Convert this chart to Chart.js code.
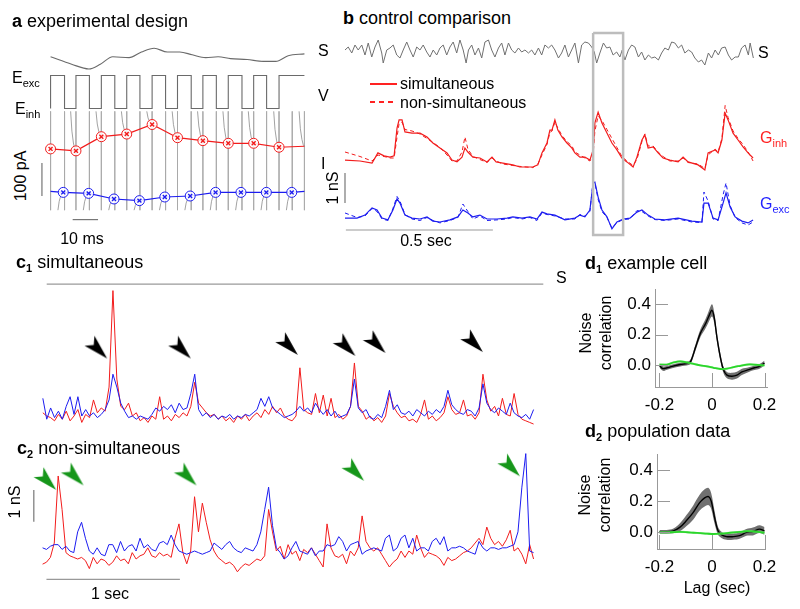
<!DOCTYPE html>
<html>
<head>
<meta charset="utf-8">
<title>simultaneous vs non-simultaneous conductances</title>
<script src="https://cdn.jsdelivr.net/npm/chart.js@4.4.1/dist/chart.umd.min.js"></script>
<style>
  body { margin: 0; background: #fff; }
  #fig { position: relative; width: 800px; height: 609px; overflow: hidden; font-family: "Liberation Sans", Arial, sans-serif; color: #000; }
  #fig canvas { position: absolute; }
  .lbl { position: absolute; white-space: nowrap; line-height: 1; font-size: 16px; }
  .ttl { font-size: 18px; }
  .sub { font-size: 11px; position: relative; top: 4px; }
  .rot { transform: translate(-50%, -50%) rotate(-90deg); }
  .ctr { transform: translateX(-50%); }
  .key { position: absolute; width: 27px; height: 1.5px; background: #f22; }
  .key.dash { background: repeating-linear-gradient(to right, #f22 0 5px, rgba(255,255,255,0) 5px 9px); }
</style>
</head>
<body>
<div id="fig">
  <canvas id="chartA" width="285" height="205" style="left:35px;top:30px"></canvas>
  <canvas id="chartB" width="430" height="215" style="left:335px;top:30px"></canvas>
  <canvas id="chartC1" width="530" height="172" style="left:30px;top:268px"></canvas>
  <canvas id="chartC2" width="540" height="160" style="left:20px;top:440px"></canvas>
  <canvas id="chartD1" width="230" height="145" style="left:560px;top:275px"></canvas>
  <canvas id="chartD2" width="230" height="140" style="left:560px;top:440px"></canvas>

  <!-- panel a -->
  <div class="lbl ttl" style="left:12px;top:12px"><b>a</b> experimental design</div>
  <div class="lbl" style="left:318px;top:43px">S</div>
  <div class="lbl" style="left:318px;top:88px">V</div>
  <div class="lbl" style="left:321px;top:156px">I</div>
  <div class="lbl" style="left:12px;top:70px">E<span class="sub">exc</span></div>
  <div class="lbl" style="left:15px;top:101px">E<span class="sub">inh</span></div>
  <div class="lbl rot" style="left:21px;top:176px">100 pA</div>
  <div class="lbl ctr" style="left:82px;top:231px">10 ms</div>

  <!-- panel b -->
  <div class="lbl ttl" style="left:343px;top:9px"><b>b</b> control comparison</div>
  <div class="lbl" style="left:758px;top:45px">S</div>
  <div class="key" style="left:370px;top:83px"></div>
  <div class="key dash" style="left:370px;top:101px"></div>
  <div class="lbl" style="left:400px;top:76px">simultaneous</div>
  <div class="lbl" style="left:400px;top:95px">non-simultaneous</div>
  <div class="lbl" style="left:760px;top:130px;color:#f22">G<span class="sub">inh</span></div>
  <div class="lbl" style="left:760px;top:196px;color:#22f">G<span class="sub">exc</span></div>
  <div class="lbl rot" style="left:333px;top:188px">1 nS</div>
  <div class="lbl ctr" style="left:426px;top:233px">0.5 sec</div>

  <!-- panel c -->
  <div class="lbl ttl" style="left:16px;top:253px"><b>c<span class="sub">1</span></b> simultaneous</div>
  <div class="lbl" style="left:556px;top:270px">S</div>
  <div class="lbl ttl" style="left:17px;top:439px"><b>c<span class="sub">2</span></b> non-simultaneous</div>
  <div class="lbl rot" style="left:15px;top:502px">1 nS</div>
  <div class="lbl ctr" style="left:110px;top:586px">1 sec</div>

  <!-- panel d -->
  <div class="lbl ttl" style="left:585px;top:254px"><b>d<span class="sub">1</span></b> example cell</div>
  <div class="lbl rot" style="left:586px;top:333px">Noise</div>
  <div class="lbl rot" style="left:606px;top:333px">correlation</div>
  <div class="lbl ttl" style="left:585px;top:422px"><b>d<span class="sub">2</span></b> population data</div>
  <div class="lbl rot" style="left:585px;top:495px">Noise</div>
  <div class="lbl rot" style="left:605px;top:495px">correlation</div>
  <div class="lbl ctr" style="left:717px;top:580px">Lag (sec)</div>
</div>

<script>
Chart.defaults.font.family = '"Liberation Sans", Arial, sans-serif';
Chart.defaults.color = '#000';

// ---------- panel a : one stimulus, alternating clamp (time in ms, current in pA) ----------
const aStimT = [0, 8.3, 15.1, 19.6, 24.5, 30.9, 35.8, 40.8, 46, 50.9, 55.8, 61.1, 66, 70.9, 77.4, 83.8, 88.7, 93.6, 100];
const aStimV = [18, 10, 5, 10, 18, 17, 23, 27, 23, 23, 20, 17, 18, 16, 15, 13, 13, 19, 21];
const aStepT = [0, 5.5, 10, 15.3, 20, 25.3, 30, 35.2, 40, 45.3, 50, 55.4, 60, 65.3, 70, 75.4, 80, 85.1, 90, 95.2, 100];
const aStepV = [-80, 0, -80, 0, -80, 0, -80, 0, -80, 0, -80, 0, -80, 0, -80, 0, -80, 0, -80, 0, 0];
const aInhT = [0, 10, 20, 30, 40, 50, 60, 70, 80, 90, 100];
const aInhV = [86, 80, 123, 131, 160, 120, 111, 103, 103, 91, 94];
const aExcT = [0, 5, 15, 25, 35, 45, 55, 65, 75, 85, 95, 100];
const aExcV = [-43, -46, -49, -66, -71, -60, -57, -46, -46, -46, -46, -43];
const aTransientTop = 200, aTransientBottom = -100;
const decayDt = [-2.1, -1.6, -1.0, -0.5, 0];
const decayFrac = [0, 0.5, 0.8, 0.95, 1];
const aPaBarT = [-3.4, -3.4], aPaBarV = [43, -57];
const aMsBarT = [8.7, 18.7], aMsBarV = [-128.6, -128.6];

// ---------- panel b : control comparison (time in s, conductance in nS) ----------
const bStimT = [0, .011, .023, .034, .045, .057, .068, .079, .091, .102,
  .113, .125, .13, .142, .153, .164, .176, .187, .198, .21,
  .221, .232, .244, .255, .266, .278, .289, .3, .312, .323,
  .334, .346, .357, .368, .38, .391, .402, .412, .42, .431,
  .442, .454, .465, .476, .488, .499, .51, .522, .533, .544,
  .556, .567, .578, .59, .601, .612, .624, .635, .646, .658,
  .669, .68, .692, .703, .714, .726, .737, .748, .76, .771,
  .782, .794, .805, .816, .828, .839, .848, .856, .867, .879,
  .89, .901, .912, .924, .935, .943, .952, .964, .975, .986,
  .998, 1.009, 1.02, 1.032, 1.043, 1.054, 1.066, 1.077, 1.088, 1.1,
  1.111, 1.122, 1.134, 1.145, 1.156, 1.168, 1.179, 1.19, 1.202, 1.213,
  1.224, 1.236, 1.247, 1.259, 1.27, 1.281, 1.293, 1.304, 1.315, 1.327,
  1.338, 1.349, 1.361, 1.372, 1.378, 1.389];
const bStimV = [20, 23, 17, 25, 20, 25, 15, 27, 13, 23,
  30, 17, 7, 20, 22, 25, 15, 12, 20, 28,
  20, 13, 23, 20, 25, 18, 13, 20, 15, 22,
  25, 15, 23, 28, 17, 30, 20, 7, 20, 25,
  15, 22, 12, 28, 30, 20, 13, 22, 27, 15,
  27, 20, 17, 22, 18, 20, 17, 20, 15, 22,
  15, 25, 22, 25, 20, 12, 17, 25, 13, 20,
  27, 7, 25, 28, 27, 23, 18, 7, 17, 27,
  22, 23, 15, 18, 13, 20, 10, 20, 25, 23,
  13, 18, 10, 15, 12, 13, 10, 17, 22, 20,
  28, 27, 22, 25, 17, 20, 18, 12, 8, 10,
  5, 17, 12, 20, 15, 22, 23, 15, 10, 13,
  13, 22, 25, 15, 27, 12];
const gInhT = [0, .051, .092, .112, .133, .153, .167, .177, .184, .194,
  .204, .228, .255, .279, .299, .323, .347, .364, .381, .398,
  .408, .418, .435, .459, .483, .5, .514, .537, .571, .595,
  .639, .656, .67, .687, .697, .704, .714, .724, .738, .755,
  .772, .782, .799, .816, .833, .844, .85, .861, .874, .891,
  .908, .925, .942, .959, .98, .993, 1.01, 1.02, 1.031, 1.048,
  1.065, 1.082, 1.105, 1.133, 1.15, 1.167, 1.201, 1.224, 1.235, 1.259,
  1.269, 1.282, 1.293, 1.303, 1.32, 1.337, 1.354, 1.371, 1.388];
const gInhSim = [.33, .3, .23, .57, .47, .43, .47, 1.4, 1.67, 1.67,
  1.27, 1.23, 1.23, 1.1, .9, .73, .57, .33, .27, .43,
  .73, .6, .43, .4, .27, .43, .27, .23, .17, .1,
  .1, .17, .57, .9, 1.33, 1.33, 1.67, 1.33, 1.1, .9,
  .73, .57, .43, .43, .33, .67, 1.57, 1.93, 1.57, 1.23,
  .9, .67, .4, .27, .1, .43, 1, 1.17, .73, .77,
  .57, .4, .33, .27, .43, .27, .17, 0, .57, .67,
  .57, 1, 1.9, 1.67, 1.23, 1, .77, .57, .4];
const gInhNon = [.6, .45, .3, .5, .45, .4, .4, 1.1, 1.55, 1.6,
  1.35, 1.3, 1.2, 1.05, .92, .75, .5, .3, .3, .6,
  1.1, .7, .45, .35, .25, .4, .3, .2, .15, .12,
  .08, .2, .5, .85, 1.25, 1.3, 1.6, 1.4, 1.15, .95,
  .8, .6, .5, .4, .3, .5, 1.3, 1.8, 1.65, 1.35,
  1.05, .75, .45, .3, .15, .35, .95, 1.2, .8, .8,
  .6, .45, .3, .3, .4, .25, .2, .05, .5, .7,
  .6, 1.05, 2.15, 1.75, 1.3, 1.05, .85, .6, .3];
const gExcT = [0, .041, .068, .092, .109, .126, .146, .163, .177, .187,
  .204, .228, .255, .279, .299, .323, .357, .384, .401, .418,
  .435, .459, .483, .517, .551, .571, .602, .629, .653, .67,
  .687, .714, .748, .782, .799, .816, .833, .844, .85, .861,
  .874, .891, .908, .925, .946, .969, .993, 1.01, 1.031, 1.054,
  1.088, 1.133, 1.18, 1.214, 1.221, 1.235, 1.252, 1.269, 1.286, 1.296,
  1.31, 1.327, 1.35, 1.371, 1.388];
const gExcSim = [.13, .13, .23, .47, .4, .13, .07, .4, .77, .63,
  .23, .13, .1, .17, .03, 0, .07, .17, .4, .3,
  .17, .23, .1, .1, .13, .17, .13, .17, .1, .33,
  .27, .23, .07, .13, .23, .17, .4, 1.3, 1.33, .83,
  .4, .17, -.23, 0, .1, .13, .33, .4, .23, .1,
  .07, .13, .03, 0, .63, .63, .13, .07, .63, .97,
  .5, .17, .03, -.03, .07];
const gExcNon = [.3, .15, .2, .45, .35, .1, .05, .45, .85, .7,
  .25, .1, .05, .15, .05, -.03, .05, .15, .6, .35,
  .1, .2, .05, .07, .1, .15, .1, .15, .05, .3,
  .25, .2, .1, .1, .25, .2, .35, 1.35, 1.3, .75,
  .35, .15, -.2, -.02, .08, .1, .38, .35, .2, .08,
  .05, .1, 0, -.02, 1.0, .7, .1, .05, .9, 1.3,
  .55, .15, -.03, -.1, 0];
const bBoxT = [0.844, 0.946], bBoxG = [-0.43, 6.3];
const bNsBarT = [0, 0], bNsBarG = [0.633, 1.633];
const bSecBarT = [0.003, 0.503], bSecBarG = [-0.267, -0.267];

// ---------- panel c : long recordings, one sample every cDt seconds (nS) ----------
const cDt = 0.0292;
const c1Red = [.4, .3, .25, .15, .35, .2, .45, .15, .3, .5,
  .1, .35, .25, .8, .4, .55, .45, 1.2, 4.2, 1.45,
  .6, .5, .7, .3, .4, .15, .25, .1, .3, .2,
  .9, .2, .3, .15, .35, .25, .4, .3, .6, 1.35,
  .7, .55, .4, .3, .35, .2, .3, .15, .25, .1,
  .3, .2, .35, .15, .3, .4, .25, .5, .35, .6,
  .4, .55, .3, .2, .15, .3, 1.8, .5, .4, .35,
  1.0, .4, .95, .3, .85, .25, .35, .2, .3, .6,
  1.95, .6, .45, .2, .3, .15, .25, .1, .3, 1.0,
  .6, .4, .25, .3, .15, .2, .1, .35, .8, .2,
  .3, .15, .25, .4, .9, .5, .35, .4, .8, .3,
  .35, .2, .4, 1.6, .8, .45, .6, .3, .85, .35,
  .3, 1.0, .35, .2, .15, .1, .05];
const c1Blue = [.85, .2, .55, .25, .45, .2, .6, .9, .35, .9,
  .3, .5, .3, .4, .25, .35, .5, .8, 1.6, 1.2,
  .7, .45, .25, .3, .2, .3, .25, .2, .35, .55,
  .45, .6, .5, .65, .4, .7, .5, .55, 1.0, 1.6,
  .5, .3, .4, .25, .35, .2, .3, .25, .35, .2,
  .3, .25, .35, .3, .4, .5, .85, .6, .9, .55,
  .45, .35, .25, .3, .35, .45, .6, .45, .55, .4,
  .7, .5, .35, .5, .3, .45, .25, .3, .35, .6,
  1.45, .55, .4, .5, .25, .2, .35, .25, .6, 1.1,
  .5, .65, .4, .35, .45, .3, .5, .4, .3, .45,
  .35, .5, .4, .6, 1.1, .65, .5, .4, .35, .5,
  .45, .3, .55, 1.3, .7, .5, .4, .55, .45, .35,
  .7, .4, .3, .25, .35, .2, .5];
const c1StimT = [0.029, 3.752], c1StimG = [4.4, 4.4];
const c1ArrowT = [.482, 1.109, 1.912, 2.343, 2.569, 3.299];
const c1ArrowG = [2.09, 2.09, 2.2, 2.17, 2.26, 2.29];

const c2Red = [.19, .25, .4, .85, 2.95, 1.9, .55, .45, .4, .35,
  .4, .3, .05, .4, .2, .35, .3, .15, .25, .45,
  .3, .35, .2, .55, .35, .45, .5, .7, .45, .4,
  .55, .45, .5, .4, 1.0, 1.45, .55, .2, .6, 2.3,
  1.2, 2.1, 1.5, .95, .6, .4, .3, .2, .25, .15,
  -.05, .1, .2, .15, .25, .35, .3, .45, 1.9, 1.2,
  .6, .75, .35, .8, .5, .6, .3, .65, .55, .7,
  .5, .3, .1, 1.45, .7, .45, .4, .5, .2, .6,
  .45, .7, 1.7, .9, .7, .6, .7, .5, .3, .1,
  .25, .35, .6, .4, .6, .5, 1.1, .7, .4, .55,
  .5, .45, .35, .15, .4, .3, .35, .45, .55, .6,
  .7, .85, 1.0, .8, 1.35, 1.0, .8, .9, .75, .95,
  1.25, .6, .7, .5, .2, .8, .35];
const c2Blue = [.7, .65, .75, .8, .8, .65, .75, .6, .55, 1.2,
  1.5, 1.0, .6, .5, .7, .5, .45, .8, .8, .55,
  .9, .6, .75, .8, .6, 1.0, .7, .8, .65, .6,
  .85, .9, .8, 1.1, .8, .6, .55, .5, .55, .6,
  .55, .5, .55, .6, .85, .75, .65, .8, .9, .7,
  .6, .55, .7, .65, .6, .8, 1.2, 1.9, 2.6, 1.4,
  .7, .55, .35, .45, .7, .9, .6, .55, .5, .7,
  .45, .6, .6, .8, .75, .8, 1.05, .9, .6, .8,
  .85, .9, .5, .6, .65, .7, .65, .6, 1.0, 1.1,
  .6, .7, 1.0, 1.1, .7, 1.0, .6, .7, .7, .6,
  .9, 1.0, .8, 1.05, .6, .7, .7, .75, .7, .6,
  .55, .5, .9, .7, .6, .7, .7, .65, .7, .7,
  .75, .8, 1.2, 2.6, 3.65, .6, .55];
const c2ArrowT = [.102, .307, 1.153, 2.409, 3.577];
const c2ArrowG = [2.514, 2.657, 2.657, 2.8, 2.943];
const c2NsBarT = [-0.0657, -0.0657], c2NsBarG = [1.514, 2.514];
const c2SecBarT = [0.029, 1.029], c2SecBarG = [-0.286, -0.286];

// ---------- panel d : noise correlation vs lag ----------
const lagTicks = [-0.2, 0, 0.2];
const lagLabels = ['-0.2', '0', '0.2'];
const corrTicks = [0, 0.2, 0.4];
const corrLabels = ['0.0', '0.2', '0.4'];
const d1Lag = [-.2, -.187, -.171, -.152, -.121, -.089, -.08, -.063, -.044, -.025, -.013, 0,
  .009, .019, .032, .044, .057, .076, .095, .114, .14, .162, .181, .2];
const d1Corr = [0, -.02, -.015, -.006, .006, .015, .03, .116, .21, .27, .316, .358,
  .305, .18, .053, -.03, -.063, -.07, -.063, -.042, -.027, -.015, -.006, .015];
const d1Err = [.015, .015, .012, .012, .012, .012, .015, .02, .025, .03, .035, .04,
  .035, .03, .025, .02, .02, .022, .022, .02, .015, .015, .015, .015];
const d2Lag = [-.2, -.173, -.147, -.123, -.098, -.072, -.047, -.028, -.013, -.003,
  .01, .023, .036, .055, .08, .105, .131, .156, .181, .2];
const d2Corr = [.004, .004, .01, .032, .074, .126, .19, .221, .229, .2,
  .095, .01, -.015, -.027, -.027, -.021, 0, .006, .021, .01];
const d2Err = [.012, .012, .015, .025, .035, .045, .05, .055, .055, .05,
  .04, .025, .02, .02, .02, .02, .022, .025, .025, .025];
const ctrlLag = [-.2, -.171, -.146, -.121, -.095, -.07, -.044, -.019, .006, .032, .057, .083, .108, .133, .159, .184, .2];
const d1Ctrl = [.006, .006, .02, .027, .02, .01, 0, -.006, -.015, -.023, -.021, -.01, -.002, .006, .006, .002, 0];
const d2Ctrl = [0, 0, .002, .003, .001, -.002, -.005, -.008, -.01, -.008, -.004, 0, .004, .008, .006, .002, -.002];
const ctrlErr = 0.007;

// ---------- helpers ----------
const RED = '#f21c1c', BLUE = '#1c1cf0';
const pts = (xs, ys) => xs.map((x, i) => ({x, y: ys[i]}));
const sampled = ys => ys.map((y, i) => ({x: i * cDt, y}));
const line = (data, color, width, yAxisID, extra) => Object.assign(
  {data, borderColor: color, borderWidth: width, pointRadius: 0, fill: false, tension: 0, yAxisID}, extra || {});
const hidden = (min, max) => ({type: 'linear', display: false, min, max});
const common = scales => ({
  responsive: false, animation: false, events: [],
  layout: {padding: 0},
  plugins: {legend: {display: false}, tooltip: {enabled: false}},
  scales
});
function segments(list) {
  const out = [];
  list.forEach(seg => { out.push(...seg, {x: seg[0].x, y: null}); });
  return out;
}
function arrowImage(color) {
  const c = document.createElement('canvas');
  c.width = 48; c.height = 48;
  const g = c.getContext('2d');
  g.translate(24, 24);
  g.rotate(Math.PI / 4);
  g.beginPath();
  g.moveTo(0, 0);
  g.lineTo(-25, -7);
  g.lineTo(-19, 0);
  g.lineTo(-25, 7);
  g.closePath();
  g.fillStyle = color;
  g.fill();
  return c;
}
const arrows = (ts, gs, img) => ({data: pts(ts, gs), showLine: false, pointStyle: img, pointRadius: 6, clip: false, yAxisID: 'y'});

// ---------- chart a ----------
const verticals = segments(aStepT.map(t => [{x: t, y: aTransientTop}, {x: t, y: aTransientBottom}]));
const inhDecay = aInhT.filter(t => t > 0).map(t => {
  const v = aInhV[aInhT.indexOf(t)];
  return decayDt.map((d, k) => ({x: t + d, y: aTransientTop + (v - aTransientTop) * decayFrac[k]}));
});
const excDecay = aExcT.filter(t => t > 0 && t < 100).map(t => {
  const v = aExcV[aExcT.indexOf(t)];
  return decayDt.map((d, k) => ({x: t + d, y: aTransientBottom + (v - aTransientBottom) * decayFrac[k]}));
});
const inhMark = aInhT.map(t => (t < 100 ? 1 : 0));
const excMark = aExcT.map(t => (t > 0 && t < 100 ? 1 : 0));

new Chart(document.getElementById('chartA'), {
  type: 'line',
  data: {datasets: [
    line(pts(aInhT, aInhV), RED, 1, 'yI', {showLine: false, pointStyle: 'crossRot', pointRadius: inhMark.map(m => m * 2.8), pointBorderColor: RED, pointBorderWidth: 1.4}),
    line(pts(aExcT, aExcV), BLUE, 1, 'yI', {showLine: false, pointStyle: 'crossRot', pointRadius: excMark.map(m => m * 2.8), pointBorderColor: BLUE, pointBorderWidth: 1.4}),
    line(pts(aInhT, aInhV), RED, 1.2, 'yI', {pointStyle: 'circle', pointRadius: inhMark.map(m => m * 5), pointBorderColor: RED, pointBackgroundColor: 'rgba(255,255,255,0.85)', pointBorderWidth: 1}),
    line(pts(aExcT, aExcV), BLUE, 1.2, 'yI', {pointStyle: 'circle', pointRadius: excMark.map(m => m * 5), pointBorderColor: BLUE, pointBackgroundColor: 'rgba(255,255,255,0.85)', pointBorderWidth: 1}),
    line(segments(inhDecay.concat(excDecay)), '#8a8a8a', 0.8, 'yI', {spanGaps: false}),
    line(verticals, '#a8a8a8', 0.8, 'yI', {spanGaps: false}),
    line(pts(aStepT, aStepV), '#6a6a6a', 1.1, 'yV', {stepped: 'after'}),
    line(pts(aStimT, aStimV), '#6a6a6a', 1.1, 'yS', {cubicInterpolationMode: 'monotone'}),
    line(pts(aPaBarT, aPaBarV), '#777', 1.2, 'yI'),
    line(pts(aMsBarT, aMsBarV), '#777', 1.2, 'yI')
  ]},
  options: common({x: hidden(-3.77, 103.77), yI: hidden(-157.1, 428.6), yV: hidden(-372.6, 96), yS: hidden(-165, 40)})
});

// ---------- chart b ----------
const boxPts = pts([bBoxT[0], bBoxT[1], bBoxT[1], bBoxT[0], bBoxT[0]], [bBoxG[1], bBoxG[1], bBoxG[0], bBoxG[0], bBoxG[1]]);
new Chart(document.getElementById('chartB'), {
  type: 'line',
  data: {datasets: [
    line(boxPts, '#bdbdbd', 2.5, 'yE'),
    line(pts(bStimT, bStimV), '#707070', 1, 'yS'),
    line(pts(gInhT, gInhSim), RED, 1.2, 'yI'),
    line(pts(gInhT, gInhNon), RED, 1, 'yI', {borderDash: [4, 3]}),
    line(pts(gExcT, gExcSim), BLUE, 1.2, 'yE'),
    line(pts(gExcT, gExcNon), BLUE, 1, 'yE', {borderDash: [4, 3]}),
    line(pts(bNsBarT, bNsBarG), '#777', 1.2, 'yE'),
    line(pts(bSecBarT, bSecBarG), '#999', 1.2, 'yE')
  ]},
  options: common({x: hidden(-0.034, 1.4286), yS: hidden(-175, 40), yI: hidden(-2.5, 4.667), yE: hidden(-0.767, 6.4)})
});

// ---------- charts c ----------
const blackArrow = arrowImage('#000');
const greenArrow = arrowImage('#16961a');

new Chart(document.getElementById('chartC1'), {
  type: 'line',
  data: {datasets: [
    arrows(c1ArrowT, c1ArrowG, blackArrow),
    line(sampled(c1Blue), BLUE, 1, 'y'),
    line(sampled(c1Red), RED, 1, 'y'),
    line(pts(c1StimT, c1StimG), '#9a9a9a', 1.3, 'y')
  ]},
  options: common({x: hidden(-0.0438, 3.8248), y: hidden(-0.2286, 4.686)})
});

new Chart(document.getElementById('chartC2'), {
  type: 'line',
  data: {datasets: [
    arrows(c2ArrowT, c2ArrowG, greenArrow),
    line(sampled(c2Blue), BLUE, 1, 'y'),
    line(sampled(c2Red), RED, 1, 'y'),
    line(pts(c2NsBarT, c2NsBarG), '#777', 1.2, 'y'),
    line(pts(c2SecBarT, c2SecBarG), '#999', 1.2, 'y')
  ]},
  options: common({x: hidden(-0.1168, 3.8248), y: hidden(-0.714, 3.857)})
});

// ---------- charts d ----------
const innerTicks = {
  id: 'innerTicks',
  afterDraw(chart) {
    const {ctx, chartArea: a, scales: {x, y}} = chart;
    ctx.save();
    ctx.strokeStyle = '#999';
    ctx.lineWidth = 1;
    ctx.beginPath();
    y.ticks.forEach(t => {
      const p = Math.round(y.getPixelForValue(t.value)) + 0.5;
      ctx.moveTo(a.left, p); ctx.lineTo(a.left + 13, p);
    });
    x.ticks.forEach(t => {
      const p = Math.round(x.getPixelForValue(t.value)) + 0.5;
      ctx.moveTo(p, a.bottom); ctx.lineTo(p, a.bottom - 14);
    });
    ctx.stroke();
    ctx.restore();
  }
};

function corrChart(id, mean, err, lag, ctrl, yr, xr, box) {
  const up = mean.map((m, i) => m + err[i]);
  const lo = mean.map((m, i) => m - err[i]);
  const smooth = {tension: 0.35};
  return new Chart(document.getElementById(id), {
    type: 'line',
    data: {datasets: [
      line(pts(lag, up), 'rgba(0,0,0,0)', 0, 'y', Object.assign({order: 5}, smooth)),
      line(pts(lag, lo), 'rgba(0,0,0,0)', 0, 'y', Object.assign({order: 4, fill: '-1', backgroundColor: '#707070'}, smooth)),
      line(pts(lag, mean), '#000', 1.4, 'y', Object.assign({order: 3}, smooth)),
      line(pts(ctrlLag, ctrl.map(v => v + ctrlErr)), 'rgba(0,0,0,0)', 0, 'y', Object.assign({order: 2}, smooth)),
      line(pts(ctrlLag, ctrl.map(v => v - ctrlErr)), 'rgba(0,0,0,0)', 0, 'y', Object.assign({order: 1, fill: '-1', backgroundColor: 'rgba(140,235,140,0.7)'}, smooth)),
      line(pts(ctrlLag, ctrl), '#2bd62b', 1.8, 'y', Object.assign({order: 0}, smooth))
    ]},
    options: {
      responsive: false, animation: false, events: [],
      layout: {padding: {left: 0, right: box.r, top: box.t, bottom: 0}},
      plugins: {legend: {display: false}, tooltip: {enabled: false}},
      scales: {
        x: {
          type: 'linear', min: xr[0], max: xr[1],
          afterBuildTicks: s => { s.ticks = lagTicks.map(v => ({value: v})); },
          afterFit: s => { s.height = box.xh; },
          grid: {display: false, drawTicks: false},
          border: {display: true, color: '#999', width: 1},
          ticks: {font: {size: 17}, color: '#000', padding: 8, maxRotation: 0, callback: (v, i) => lagLabels[i]}
        },
        y: {
          type: 'linear', min: yr[0], max: yr[1],
          afterBuildTicks: s => { s.ticks = corrTicks.map(v => ({value: v})); },
          afterFit: s => { s.width = box.yw; },
          grid: {display: false, drawTicks: false},
          border: {display: true, color: '#999', width: 1},
          ticks: {font: {size: 17}, color: '#000', padding: 4, callback: (v, i) => corrLabels[i]}
        }
      }
    },
    plugins: [innerTicks]
  });
}

corrChart('chartD1', d1Corr, d1Err, d1Lag, d1Ctrl, [-0.1397, 0.495], [-0.2171, 0.2095], {r: 23, t: 12, yw: 95, xh: 33});
corrChart('chartD2', d2Corr, d2Err, d2Lag, d2Ctrl, [-0.106, 0.5], [-0.2095, 0.2019], {r: 25, t: 12, yw: 97, xh: 31});
</script>
</body>
</html>
